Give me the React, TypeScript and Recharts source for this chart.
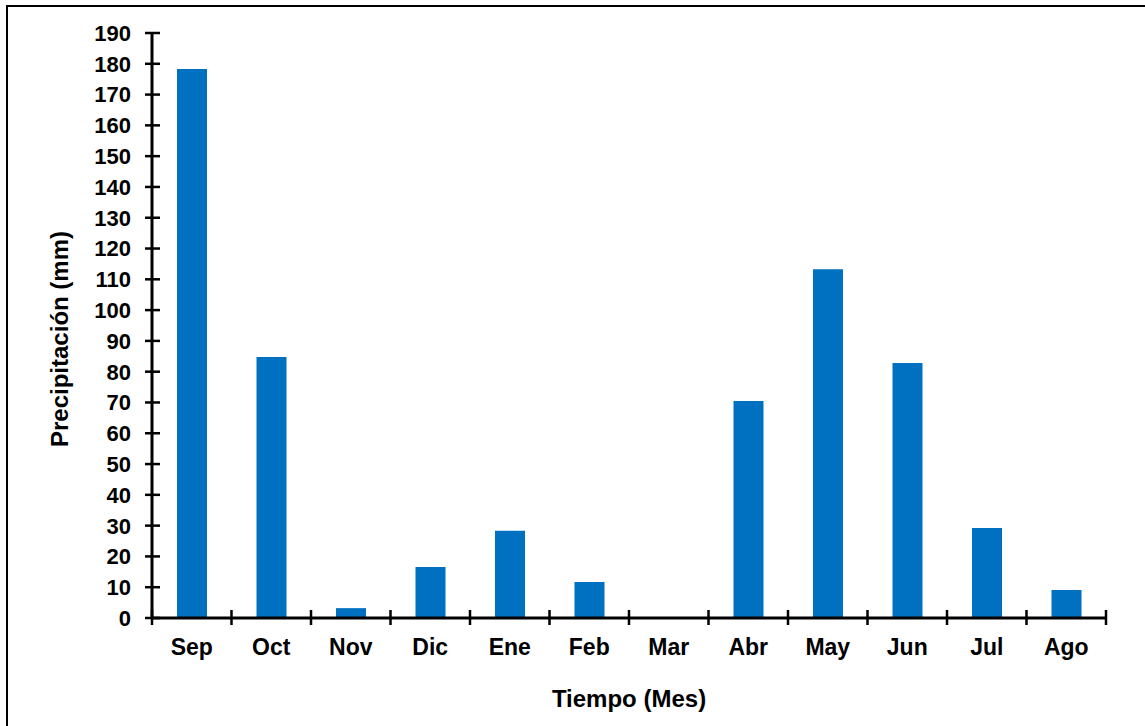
import React from "react"
import { BarChart, Bar, XAxis, YAxis, Label } from "recharts"

// Precipitación mensual (mm), año hidrológico Sep–Ago
const meses = ["Sep", "Oct", "Nov", "Dic", "Ene", "Feb", "Mar", "Abr", "May", "Jun", "Jul", "Ago"]
const precipitacion = [178.3, 84.8, 3.2, 16.6, 28.3, 11.7, 0, 70.5, 113.3, 82.8, 29.2, 9.1]
const ticksY = [0, 10, 20, 30, 40, 50, 60, 70, 80, 90, 100, 110, 120, 130, 140, 150, 160, 170, 180, 190]

const data = meses.map((mes, i) => ({ mes, valor: precipitacion[i] }))

const W = 1145
const H = 726
const PLOT_LEFT = 152
const PLOT_RIGHT = 1106
const PLOT_TOP = 33
const PLOT_BOTTOM = 618
const BAND = (PLOT_RIGHT - PLOT_LEFT) / meses.length
const FONT = "'Liberation Sans', Arial, sans-serif"

const YTick = (props: any) => {
    const y = props.payload.coordinate
    return (
        <g>
            <line x1={PLOT_LEFT - 7} x2={PLOT_LEFT + 8} y1={y} y2={y} stroke="#000" strokeWidth={2.5} />
            <text x={PLOT_LEFT - 21} y={y} dy="0.36em" textAnchor="end" fontFamily={FONT} fontWeight="bold" fontSize={22} fill="#000">
                {props.payload.value}
            </text>
        </g>
    )
}

const XTick = (props: any) => {
    const x = props.payload.coordinate
    const last = props.index === meses.length - 1
    return (
        <g>
            <line x1={x - BAND / 2} x2={x - BAND / 2} y1={PLOT_BOTTOM - 8} y2={PLOT_BOTTOM + 7} stroke="#000" strokeWidth={2.5} />
            {last && (
                <line x1={x + BAND / 2} x2={x + BAND / 2} y1={PLOT_BOTTOM - 8} y2={PLOT_BOTTOM + 7} stroke="#000" strokeWidth={2.5} />
            )}
            <text x={x} y={PLOT_BOTTOM + 37} textAnchor="middle" fontFamily={FONT} fontWeight="bold" fontSize={23} fill="#000">
                {props.payload.value}
            </text>
        </g>
    )
}

export default function App() {
    return (
        <div style={{ position: "fixed", left: 0, top: 0, width: W, height: H, background: "#fff" }}>
            <div
                style={{
                    position: "absolute",
                    left: 6,
                    top: 5,
                    right: -10,
                    bottom: -10,
                    borderLeft: "2px solid #000",
                    borderTop: "2px solid #000",
                }}
            />
            <BarChart
                width={W}
                height={H}
                data={data}
                margin={{ top: PLOT_TOP, right: W - PLOT_RIGHT, bottom: H - PLOT_BOTTOM - 60, left: 0 }}
                style={{ position: "absolute", left: 0, top: 0 }}
            >
                <XAxis
                    dataKey="mes"
                    height={60}
                    axisLine={{ stroke: "#000", strokeWidth: 3 }}
                    tickLine={false}
                    tick={<XTick />}
                    interval={0}
                >
                    <Label
                        content={() => (
                            <text
                                x={(PLOT_LEFT + PLOT_RIGHT) / 2}
                                y={707}
                                textAnchor="middle"
                                fontFamily={FONT}
                                fontWeight="bold"
                                fontSize={24}
                                fill="#000"
                            >
                                Tiempo (Mes)
                            </text>
                        )}
                    />
                </XAxis>
                <YAxis
                    width={PLOT_LEFT}
                    domain={[0, 190]}
                    ticks={ticksY}
                    interval={0}
                    axisLine={{ stroke: "#000", strokeWidth: 3 }}
                    tickLine={false}
                    tick={<YTick />}
                >
                    <Label
                        content={() => (
                            <text
                                x={0}
                                y={0}
                                transform="translate(68, 339) rotate(-90)"
                                textAnchor="middle"
                                fontFamily={FONT}
                                fontWeight="bold"
                                fontSize={24}
                                fill="#000"
                            >
                                Precipitación (mm)
                            </text>
                        )}
                    />
                </YAxis>
                <Bar dataKey="valor" fill="#0070C0" barSize={30} isAnimationActive={false} />
            </BarChart>
        </div>
    )
}
